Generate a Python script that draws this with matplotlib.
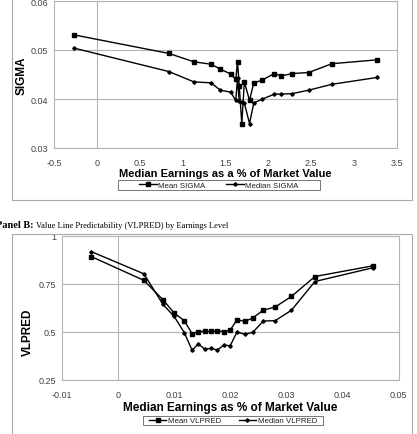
import matplotlib
matplotlib.use("Agg")
import matplotlib.pyplot as plt
from matplotlib.patches import Rectangle

# Panel A: SIGMA by earnings level (x in %)
earn_pct = [-0.27, 0.84, 1.13, 1.33, 1.44, 1.56, 1.62, 1.64, 1.66, 1.69,
            1.72, 1.78, 1.83, 1.92, 2.07, 2.15, 2.28, 2.47, 2.74, 3.27]
mean_sigma = [0.0531, 0.0493, 0.0476, 0.0471, 0.0461, 0.0451, 0.0440, 0.0476, 0.0427, 0.0350,
              0.0435, 0.0397, 0.0433, 0.0438, 0.0452, 0.0447, 0.0452, 0.0454, 0.0472, 0.0480]
median_sigma = [0.0504, 0.0456, 0.0435, 0.0433, 0.0418, 0.0414, 0.0397, 0.0443, 0.0395, 0.0393,
                0.0392, 0.0350, 0.0392, 0.0399, 0.0410, 0.0410, 0.0411, 0.0418, 0.0430, 0.0444]

# Panel B: VLPRED by earnings level (x as fraction)
earn_frac = [-0.0048, 0.0046, 0.0080, 0.0100, 0.0118, 0.0132, 0.0143, 0.0155, 0.0166, 0.0177,
             0.0188, 0.0200, 0.0212, 0.0226, 0.0240, 0.0259, 0.0280, 0.0309, 0.0351, 0.0455]
mean_vlpred = [0.893, 0.769, 0.668, 0.599, 0.559, 0.491, 0.502, 0.503, 0.503, 0.507,
               0.502, 0.510, 0.564, 0.555, 0.573, 0.614, 0.630, 0.685, 0.789, 0.845]
median_vlpred = [0.919, 0.803, 0.644, 0.581, 0.497, 0.405, 0.438, 0.410, 0.415, 0.406,
                 0.431, 0.429, 0.500, 0.488, 0.498, 0.557, 0.559, 0.613, 0.763, 0.835]

top_yticks = [0.03, 0.04, 0.05, 0.06]
top_xticks = [-0.5, 0, 0.5, 1, 1.5, 2, 2.5, 3, 3.5]
bot_yticks = [0.25, 0.5, 0.75, 1]
bot_xticks = [-0.01, 0, 0.01, 0.02, 0.03, 0.04, 0.05]

W, H = 417, 435
GRID = "#b4b4b4"
TICK = "#404040"
FONT = "Liberation Sans"


def fx(px):
    return px / W


def fy(py):
    return 1 - py / H


def style(ax, xticks, yticks, xlabels, ylabels):
    ax.set_xticks(xticks)
    ax.set_yticks(yticks)
    ax.set_xticklabels(xlabels, fontsize=6.5, color=TICK, family=FONT)
    ax.set_yticklabels(ylabels, fontsize=6.5, color=TICK, family=FONT)
    ax.tick_params(axis="x", length=0, pad=7)
    ax.tick_params(axis="y", length=0, pad=4)
    ax.grid(axis="y", color=GRID, lw=0.8)
    ax.axvline(0, color=GRID, lw=0.8, zorder=1)
    for s in ax.spines.values():
        s.set_color(GRID)
        s.set_linewidth(0.8)


def legend(handles, x0, y0, x1, y1, spacing):
    # legend box drawn by hand so its size matches the original
    fig.patches.append(Rectangle((fx(x0), fy(y1)), fx(x1 - x0), fy(y0) - fy(y1),
                                 transform=fig.transFigure, fill=False, ec="#606060", lw=0.6))
    leg = fig.legend(handles=handles, loc="center",
                     bbox_to_anchor=(fx((x0 + x1) / 2), fy((y0 + y1) / 2)), ncol=2,
                     frameon=False, handlelength=2.2, handletextpad=0.2, columnspacing=spacing,
                     borderaxespad=0, borderpad=0, prop={"family": FONT, "size": 5.7})
    for t in leg.get_texts():
        t.set_color("#202020")


fig = plt.figure(figsize=(W / 100, H / 100), dpi=100)

# outer chart frames
fig.patches.append(Rectangle((fx(12), fy(201)), fx(400), 1 - fy(201) + 0.01,
                             transform=fig.transFigure, fill=False, ec="#a8a8a8", lw=0.8))
fig.patches.append(Rectangle((fx(12), -0.01), fx(400), fy(235) + 0.01,
                             transform=fig.transFigure, fill=False, ec="#a8a8a8", lw=0.8))

# ---- Panel A ----
ax1 = fig.add_axes([fx(54), fy(149), fx(343), fy(2) - fy(149)])
a1, = ax1.plot(earn_pct, mean_sigma, color="black", lw=1, marker="s", ms=2.6, label="Mean SIGMA")
a2, = ax1.plot(earn_pct, median_sigma, color="black", lw=1, marker="D", ms=1.8, label="Median SIGMA")
ax1.set_xlim(-0.5, 3.5)
ax1.set_ylim(0.03, 0.06)
style(ax1, top_xticks, top_yticks,
      ["-0.5", "0", "0.5", "1", "1.5", "2", "2.5", "3", "3.5"],
      ["0.03", "0.04", "0.05", "0.06"])
fig.text(fx(225), fy(174), "Median Earnings as a % of Market Value", ha="center", va="center",
         fontsize=8, fontweight="bold", family=FONT)
fig.text(fx(22), fy(76), "SIGMA", ha="center", va="center", rotation=90,
         fontsize=8.5, fontweight="bold", family=FONT)
legend([a1, a2], 118, 181, 320, 191, 2.6)

# ---- caption ----
fig.text(fx(34), fy(226), "Panel B:", ha="right", va="center", fontsize=7.5,
         fontweight="bold", family="Liberation Serif")
fig.text(fx(36), fy(226), "Value Line Predictability (VLPRED) by Earnings Level", ha="left",
         va="center", fontsize=6.1, family="Liberation Serif")

# ---- Panel B ----
ax2 = fig.add_axes([fx(62), fy(381), fx(336.5), fy(237) - fy(381)])
b1, = ax2.plot(earn_frac, mean_vlpred, color="black", lw=1, marker="s", ms=2.6, label="Mean VLPRED")
b2, = ax2.plot(earn_frac, median_vlpred, color="black", lw=1, marker="D", ms=1.8, label="Median VLPRED")
ax2.set_xlim(-0.01, 0.05)
ax2.set_ylim(0.25, 1)
style(ax2, bot_xticks, bot_yticks,
      ["-0.01", "0", "0.01", "0.02", "0.03", "0.04", "0.05"],
      ["0.25", "0.5", "0.75", "1"])
fig.text(fx(230), fy(408), "Median Earnings as % of Market Value", ha="center", va="center",
         fontsize=8.5, fontweight="bold", family=FONT)
fig.text(fx(28), fy(332), "VLPRED", ha="center", va="center", rotation=90,
         fontsize=8.5, fontweight="bold", family=FONT)
legend([b1, b2], 143, 417, 323, 426, 2.2)

fig.savefig("out.png", dpi=100)
